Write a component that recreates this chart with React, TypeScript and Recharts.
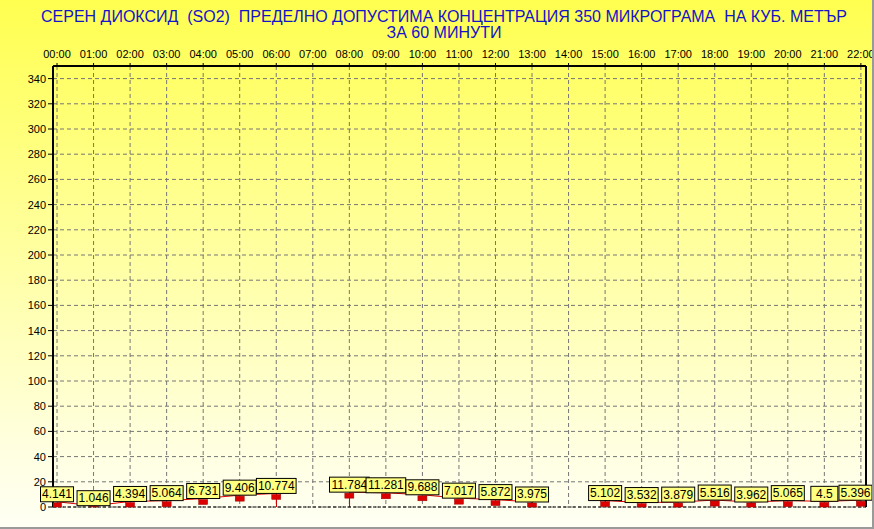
import React from 'react';
import { ComposedChart, Line, Bar, XAxis, YAxis, CartesianGrid, ReferenceLine, LabelList } from 'recharts';

const hours = ['00:00', '01:00', '02:00', '03:00', '04:00', '05:00', '06:00', '07:00', '08:00', '09:00', '10:00', '11:00',
    '12:00', '13:00', '14:00', '15:00', '16:00', '17:00', '18:00', '19:00', '20:00', '21:00', '22:00'];
const so2: (number | null)[] = [4.141, 1.046, 4.394, 5.064, 6.731, 9.406, 10.774, null, 11.784, 11.281, 9.688, 7.017,
    5.872, 3.975, null, 5.102, 3.532, 3.879, 5.516, 3.962, 5.065, 4.5, 5.396];
const yTicks = [0, 20, 40, 60, 80, 100, 120, 140, 160, 180, 200, 220, 240, 260, 280, 300, 320, 340];

const X_MIN = -0.11;
const X_MAX = 22.14;
const PLOT_BOTTOM = 507;
const RIGHT_LIMIT = 872;
const FONT = '"Liberation Sans", Arial, sans-serif';

// drop line only next to a gap in the series
const data = hours.map((h, i) => {
    const v = so2[i];
    const nextToGap = v != null && (so2[i - 1] === null || so2[i + 1] === null);
    return { x: i, label: h, v, stem: nextToGap ? v : null };
});

const Marker = (props: any) => {
    const { cx, cy, value } = props;
    if (value == null || cx == null || cy == null) return null;
    const top = cy + 1;
    const h = Math.max(0, Math.min(5, PLOT_BOTTOM - top));
    if (h <= 0) return null;
    return <rect x={cx - 4.5} y={top} width={9} height={h} fill="#dc0000" stroke="#a00000" strokeWidth={0.5} />;
};

const ValueBox = (props: any) => {
    const { x, y, value } = props;
    if (value == null) return null;
    const txt = String(value);
    const digits = txt.replace('.', '').length;
    const tw = digits * 6.67 + (txt.includes('.') ? 3.34 : 0);
    const w = Math.max(27, tw + 3);
    const h = 15;
    let left = x - w / 2;
    if (left + w > RIGHT_LIMIT) left = RIGHT_LIMIT - w; // keep the last box inside
    return (
        <g>
            <rect x={left} y={y - h} width={w} height={h} fill="#ffff80" stroke="#000" strokeWidth={1} />
            <text x={left + w / 2} y={y - 3.5} textAnchor="middle" fontSize={12} fontFamily={FONT} fill="#000">{txt}</text>
        </g>
    );
};

export default function App() {
    return (
        <div style={{
            position: 'absolute', left: 0, top: 0, width: 874, height: 529, boxSizing: 'border-box',
            borderRight: '2px solid #9a9a9a', borderBottom: '2px solid #9a9a9a',
            background: 'linear-gradient(to bottom, #ffff50 0%, #ffff9c 45%, #ffffe0 85%, #fffff4 100%)', overflow: 'hidden'
        }}>
            <svg width={874} height={44} style={{ position: 'absolute', left: 0, top: 0, pointerEvents: 'none' }}>
                <text x={444} y={22} textAnchor="middle" fontSize={16} fontFamily={FONT} fill="#1414c8"
                    textLength={806} lengthAdjust="spacingAndGlyphs" style={{ whiteSpace: 'pre' }}>
                    {'СЕРЕН ДИОКСИД  (SO2)  ПРЕДЕЛНО ДОПУСТИМА КОНЦЕНТРАЦИЯ 350 МИКРОГРАМА  НА КУБ. МЕТЪР'}
                </text>
                <text x={444} y={38} textAnchor="middle" fontSize={16} fontFamily={FONT} fill="#1414c8">
                    ЗА 60 МИНУТИ
                </text>
            </svg>
            <div style={{ position: 'absolute', left: 0, top: 0 }}>
                <ComposedChart width={874} height={529} data={data} margin={{ top: 36, right: 8, bottom: 22, left: 13 }}>
                    <CartesianGrid stroke="#767676" strokeDasharray="4 3" />
                    <XAxis
                        type="number"
                        dataKey="x"
                        orientation="top"
                        height={30}
                        domain={[X_MIN, X_MAX]}
                        allowDataOverflow
                        ticks={hours.map((_, i) => i)}
                        interval={0}
                        tickFormatter={(i) => hours[i]}
                        tick={{ fontSize: 11, fontFamily: FONT, fill: '#000' }}
                        tickSize={3}
                        tickMargin={5}
                        tickLine={{ stroke: '#000' }}
                        axisLine={{ stroke: '#000', strokeWidth: 2 }}
                    />
                    <YAxis
                        type="number"
                        width={40}
                        domain={[0, 350]}
                        ticks={yTicks}
                        interval={0}
                        tick={{ fontSize: 11, fontFamily: FONT, fill: '#000' }}
                        tickSize={5}
                        tickMargin={2}
                        tickLine={{ stroke: '#000' }}
                        axisLine={{ stroke: '#000', strokeWidth: 2 }}
                    />
                    <ReferenceLine y={0} stroke="#000" strokeDasharray="3 2" ifOverflow="visible" />
                    <ReferenceLine x={X_MAX} stroke="#000" strokeWidth={2} ifOverflow="visible" />
                    <Bar dataKey="stem" barSize={1} fill="#d00000" isAnimationActive={false} />
                    <Line
                        dataKey="v"
                        stroke="#e00000"
                        strokeWidth={1}
                        connectNulls={false}
                        dot={<Marker />}
                        activeDot={false}
                        isAnimationActive={false}
                    >
                        <LabelList dataKey="v" content={<ValueBox />} />
                    </Line>
                </ComposedChart>
            </div>
        </div>
    );
}
